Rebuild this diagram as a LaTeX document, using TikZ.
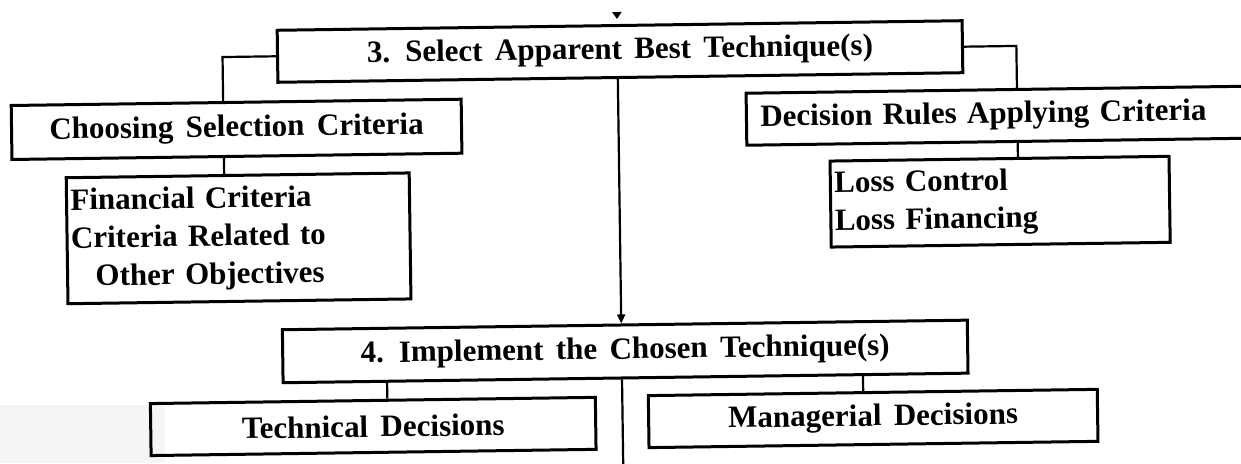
\documentclass[tikz,border=0pt]{standalone}
\usepackage{fontspec}
\setmainfont[WordSpace=1.6]{Liberation Serif}
\usetikzlibrary{arrows.meta}
\tikzset{
  box/.style={draw, line width=3pt, inner xsep=4pt, inner ysep=0pt,
    font=\bfseries\fontsize{31}{38}\selectfont, transform shape},
  link/.style={line width=2.2pt},
  tip/.style={-{Triangle[length=9pt,width=8pt]}}
}
\begin{document}
\begin{tikzpicture}[x=1pt,y=-1pt]
\useasboundingbox (0,0) rectangle (1241,463);
\clip (0,0) rectangle (1241,463);
\fill[white] (0,0) rectangle (1241,463);
\fill[black!4] (0,405) rectangle (165,463);

\begin{scope}[rotate around={0.8:(620,231)}]
  % step 3 and its two branches
  \node[box, minimum width=685pt, minimum height=52pt] (b3) at (622.5,51.5)
    {3. Select Apparent Best Technique(s)};
  \node[box, minimum width=450pt, minimum height=54pt] (choose) at (238,124)
    {Choosing Selection Criteria};
  \node[box, minimum width=343pt, minimum height=126pt, text width=335pt, align=left] (fin) at (238.5,233)
    {Financial Criteria\\Criteria Related to\\\hspace*{24pt}Other Objectives};
  \node[box, minimum width=514pt, minimum height=52pt, inner xsep=14pt, text width=486pt, align=left] (dec) at (1005,121)
    {Decision Rules Applying Criteria};
  \node[box, minimum width=339pt, minimum height=86pt, text width=331pt, align=left] (loss) at (1000.5,207)
    {Loss Control\\Loss Financing};

  % step 4 and its two branches
  \node[box, minimum width=685pt, minimum height=53pt] (b4) at (623.5,351.5)
    {4. Implement the Chosen Technique(s)};
  \node[box, minimum width=445pt, minimum height=52pt] (tech) at (370.5,423)
    {Technical Decisions};
  \node[box, minimum width=449pt, minimum height=52pt] (man) at (870.5,422)
    {Managerial Decisions};

  % columns of the connectors
  \coordinate (cl) at (225,0);
  \coordinate (cr) at (1019,0);
  \coordinate (c0) at (620,0);
  \coordinate (tx) at (385,0);
  \coordinate (mx) at (861,0);
  \coordinate (inc) at (620,12);
  \coordinate (out) at (620,480);

  \draw[link, -{Triangle[length=7pt,width=9pt]}, shorten >=5pt] (inc) -- (b3.north -| c0);
  \draw[link] (b3.west) -| (choose.north -| cl);
  \draw[link] (choose.south -| cl) -- (fin.north -| cl);
  \draw[link] (b3.east) -| (dec.north -| cr);
  \draw[link] (dec.south -| cr) -- (loss.north -| cr);
  \draw[link, tip] (b3.south -| c0) -- (b4.north -| c0);
  \draw[link] (b4.south -| tx) -- (tech.north -| tx);
  \draw[link] (b4.south -| mx) -- (man.north -| mx);
  \draw[link] (b4.south -| c0) -- (out);
\end{scope}
\end{tikzpicture}
\end{document}
